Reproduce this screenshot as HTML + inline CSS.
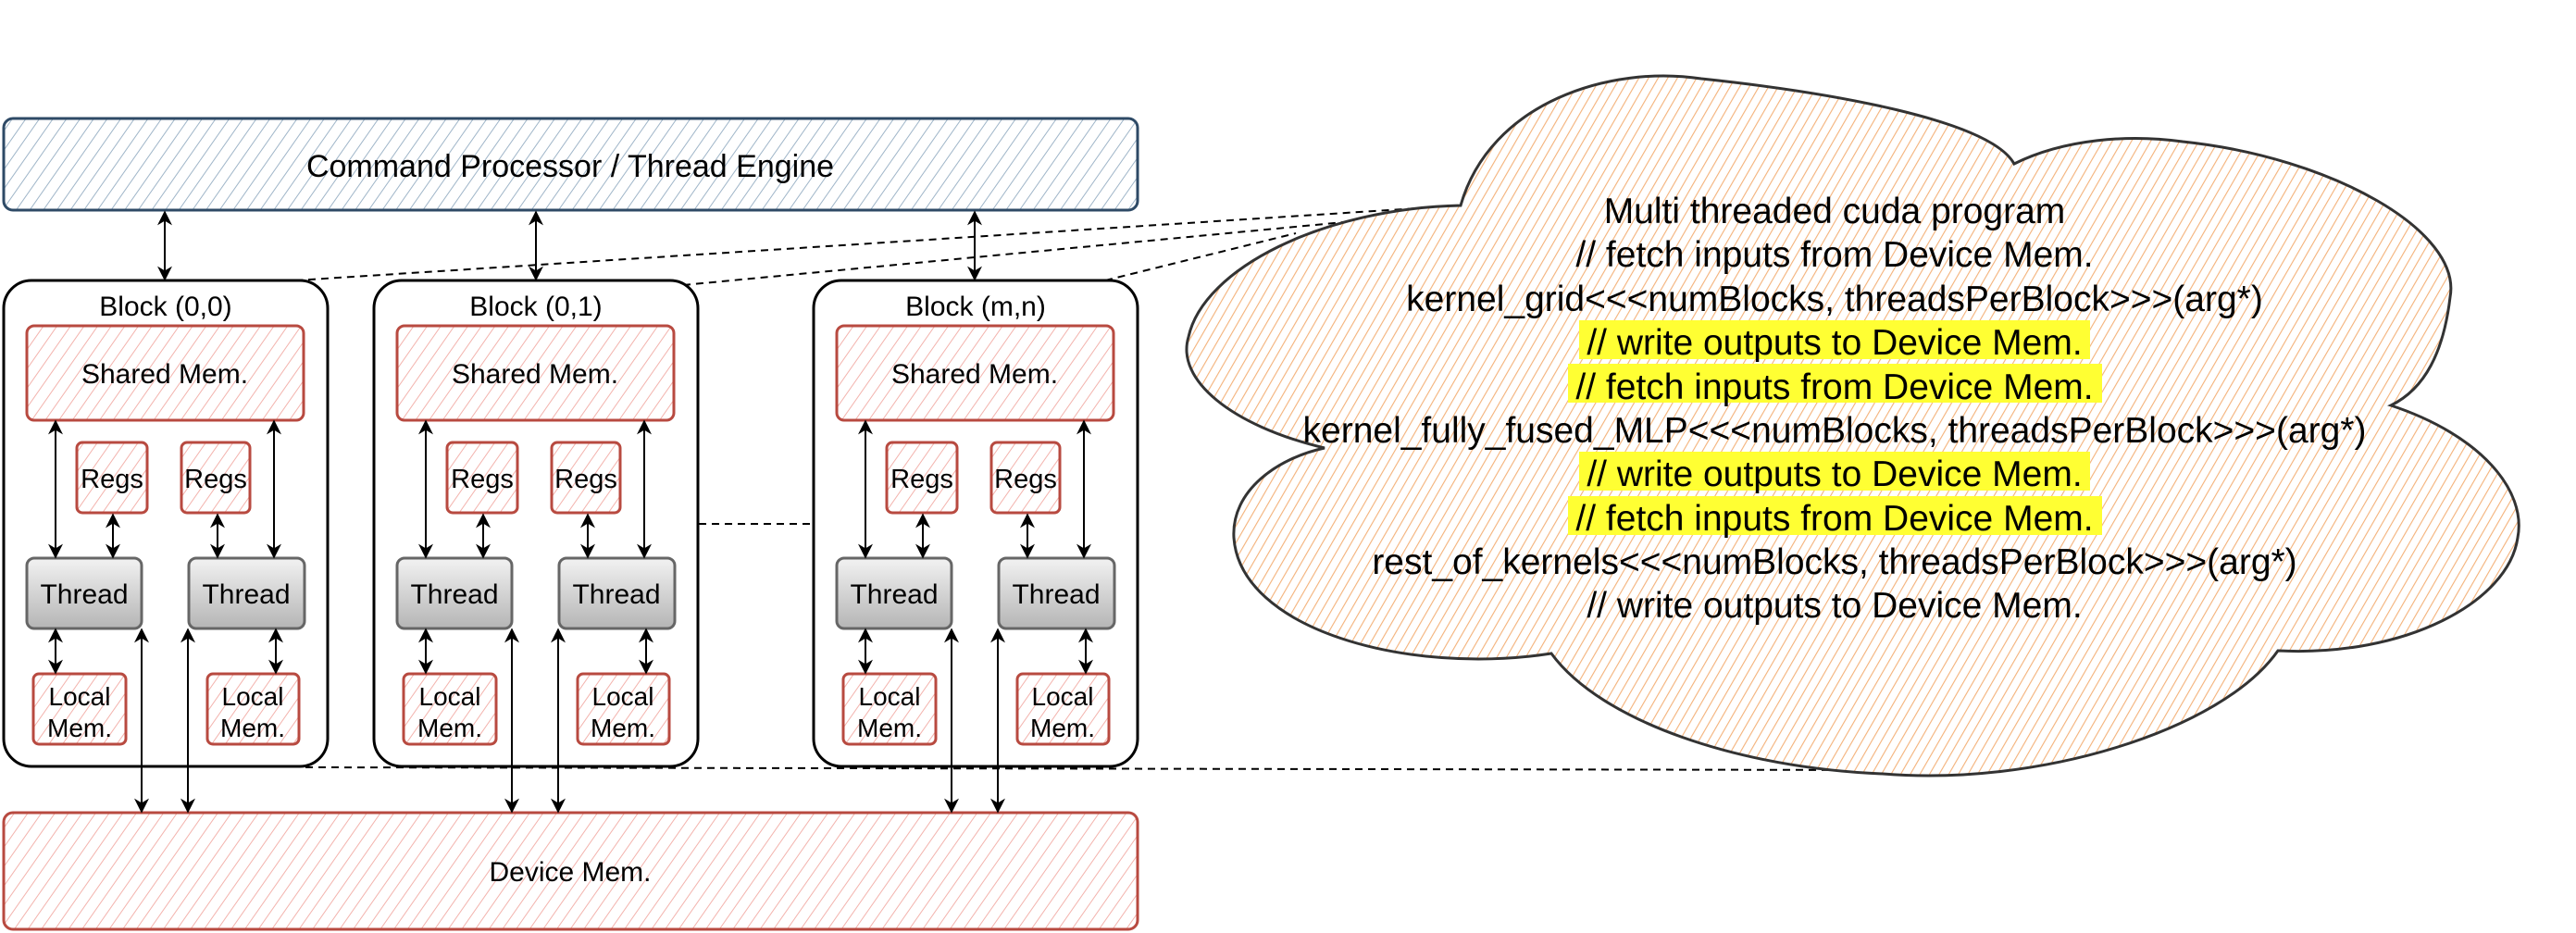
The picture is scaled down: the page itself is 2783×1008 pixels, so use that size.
<!DOCTYPE html>
<html><head><meta charset="utf-8"><style>
html,body{margin:0;padding:0;background:#fff;}
svg{display:block;}
text{font-family:"Liberation Sans",Arial,sans-serif;fill:#000;}
</style></head><body>
<svg width="2783" height="1008" viewBox="0 0 2783 1008" xmlns="http://www.w3.org/2000/svg">
<defs>
<pattern id="hb" width="12" height="12" patternUnits="userSpaceOnUse" patternTransform="rotate(35)">
<rect width="12" height="12" fill="#fff"/><line x1="0" y1="0" x2="0" y2="12" stroke="#9fb5c8" stroke-width="2"/></pattern>
<pattern id="hr" width="12" height="12" patternUnits="userSpaceOnUse" patternTransform="rotate(35)">
<rect width="12" height="12" fill="#fff"/><line x1="0" y1="0" x2="0" y2="12" stroke="#f3b3ad" stroke-width="2"/></pattern>
<pattern id="ho" width="9" height="9" patternUnits="userSpaceOnUse" patternTransform="rotate(30)">
<rect width="9" height="9" fill="#fff"/><line x1="0" y1="0" x2="0" y2="9" stroke="#f4b27a" stroke-width="2.2"/></pattern>
<linearGradient id="gg" x1="0" y1="0" x2="0" y2="1"><stop offset="0" stop-color="#f2f2f2"/><stop offset="1" stop-color="#b5b5b5"/></linearGradient>
<marker id="ae" viewBox="0 0 10 10" refX="9" refY="5" markerWidth="8" markerHeight="8" orient="auto-start-reverse"><path d="M0,0 L10,5 L0,10 L3,5 z" fill="#000"/></marker>
<g id="blkin">
<rect x="29" y="352" width="299" height="102" rx="8" fill="url(#hr)" stroke="#b84a40" stroke-width="3"/>
<text x="178" y="414" font-size="30" text-anchor="middle">Shared Mem.</text>
<rect x="83" y="478" width="76" height="76" rx="6" fill="url(#hr)" stroke="#b84a40" stroke-width="3"/>
<rect x="196" y="478" width="74" height="76" rx="6" fill="url(#hr)" stroke="#b84a40" stroke-width="3"/>
<text x="121" y="527" font-size="29" text-anchor="middle">Regs</text>
<text x="233" y="527" font-size="29" text-anchor="middle">Regs</text>
<rect x="29" y="603" width="124" height="76" rx="8" fill="url(#gg)" stroke="#666" stroke-width="3"/>
<rect x="204" y="603" width="125" height="76" rx="8" fill="url(#gg)" stroke="#666" stroke-width="3"/>
<text x="91" y="652" font-size="30" text-anchor="middle">Thread</text>
<text x="266" y="652" font-size="30" text-anchor="middle">Thread</text>
<rect x="36" y="728" width="100" height="76" rx="6" fill="url(#hr)" stroke="#b84a40" stroke-width="3"/>
<rect x="224" y="728" width="99" height="76" rx="6" fill="url(#hr)" stroke="#b84a40" stroke-width="3"/>
<text x="86" y="762" font-size="28" text-anchor="middle">Local</text>
<text x="86" y="796" font-size="28" text-anchor="middle">Mem.</text>
<text x="273" y="762" font-size="28" text-anchor="middle">Local</text>
<text x="273" y="796" font-size="28" text-anchor="middle">Mem.</text>
<g stroke="#000" stroke-width="2" marker-start="url(#ae)" marker-end="url(#ae)">
<line x1="60" y1="455" x2="60" y2="602"/>
<line x1="296" y1="455" x2="296" y2="602"/>
<line x1="122" y1="556" x2="122" y2="602"/>
<line x1="235" y1="556" x2="235" y2="602"/>
<line x1="60" y1="680" x2="60" y2="727"/>
<line x1="298" y1="680" x2="298" y2="727"/>
<line x1="153" y1="680" x2="153" y2="877"/>
<line x1="203" y1="680" x2="203" y2="877"/>
</g>
</g>
</defs>

<g stroke="#000" stroke-width="2" stroke-dasharray="8,6" fill="none">
<line x1="319" y1="303" x2="1578" y2="222"/>
<line x1="738" y1="308" x2="1578" y2="228"/>
<line x1="1194" y1="303" x2="1400" y2="252"/>
<line x1="755" y1="566" x2="879" y2="566"/>
<line x1="330" y1="829" x2="2060" y2="832"/>
</g>

<rect x="4" y="128" width="1225" height="99" rx="10" fill="url(#hb)" stroke="#2e4a66" stroke-width="3"/>
<text x="616" y="191" font-size="34" text-anchor="middle">Command Processor / Thread Engine</text>

<rect x="4" y="878" width="1225" height="126" rx="10" fill="url(#hr)" stroke="#b84a40" stroke-width="3"/>
<text x="616" y="952" font-size="30" text-anchor="middle">Device Mem.</text>

<g stroke="#000" stroke-width="2" marker-start="url(#ae)" marker-end="url(#ae)">
<line x1="178" y1="229" x2="178" y2="302"/>
<line x1="579" y1="229" x2="579" y2="302"/>
<line x1="1053" y1="229" x2="1053" y2="302"/>
</g>

<rect x="4" y="303" width="350" height="525" rx="30" fill="#fff" stroke="#000" stroke-width="3"/>
<text x="179" y="341" font-size="30" text-anchor="middle">Block (0,0)</text>
<use href="#blkin"/>
<rect x="404" y="303" width="350" height="525" rx="30" fill="#fff" stroke="#000" stroke-width="3"/>
<text x="579" y="341" font-size="30" text-anchor="middle">Block (0,1)</text>
<use href="#blkin" x="400"/>
<rect x="879" y="303" width="350" height="525" rx="30" fill="#fff" stroke="#000" stroke-width="3"/>
<text x="1054" y="341" font-size="30" text-anchor="middle">Block (m,n)</text>
<use href="#blkin" x="875"/>

<path d="M1578,222 C1610,110 1740,70 1838,85 C1980,100 2150,130 2176,177 C2230,150 2300,145 2358,153 C2520,170 2660,250 2647,321 C2640,380 2620,420 2583,438 C2680,470 2730,530 2720,581 C2710,650 2600,710 2461,703 C2400,790 2200,850 2034,836 C1880,830 1730,780 1676,706 C1520,730 1340,680 1333,581 C1330,530 1380,495 1431,484 C1330,460 1270,410 1284,364 C1300,290 1430,225 1578,222 Z" fill="url(#ho)" stroke="#333" stroke-width="3"/>

<g fill="#ffff33">
<rect x="1706" y="346" width="552" height="42"/>
<rect x="1694" y="393" width="577" height="42"/>
<rect x="1706" y="488" width="552" height="42"/>
<rect x="1694" y="536" width="577" height="42"/>
</g>
<g font-size="39" text-anchor="middle">
<text x="1982" y="241">Multi threaded cuda program</text>
<text x="1982" y="288">// fetch inputs from Device Mem.</text>
<text x="1982" y="336">kernel_grid&lt;&lt;&lt;numBlocks, threadsPerBlock&gt;&gt;&gt;(arg*)</text>
<text x="1982" y="383">// write outputs to Device Mem.</text>
<text x="1982" y="431">// fetch inputs from Device Mem.</text>
<text x="1982" y="478">kernel_fully_fused_MLP&lt;&lt;&lt;numBlocks, threadsPerBlock&gt;&gt;&gt;(arg*)</text>
<text x="1982" y="525">// write outputs to Device Mem.</text>
<text x="1982" y="573">// fetch inputs from Device Mem.</text>
<text x="1982" y="620">rest_of_kernels&lt;&lt;&lt;numBlocks, threadsPerBlock&gt;&gt;&gt;(arg*)</text>
<text x="1982" y="667">// write outputs to Device Mem.</text>
</g>
</svg>
</body></html>
